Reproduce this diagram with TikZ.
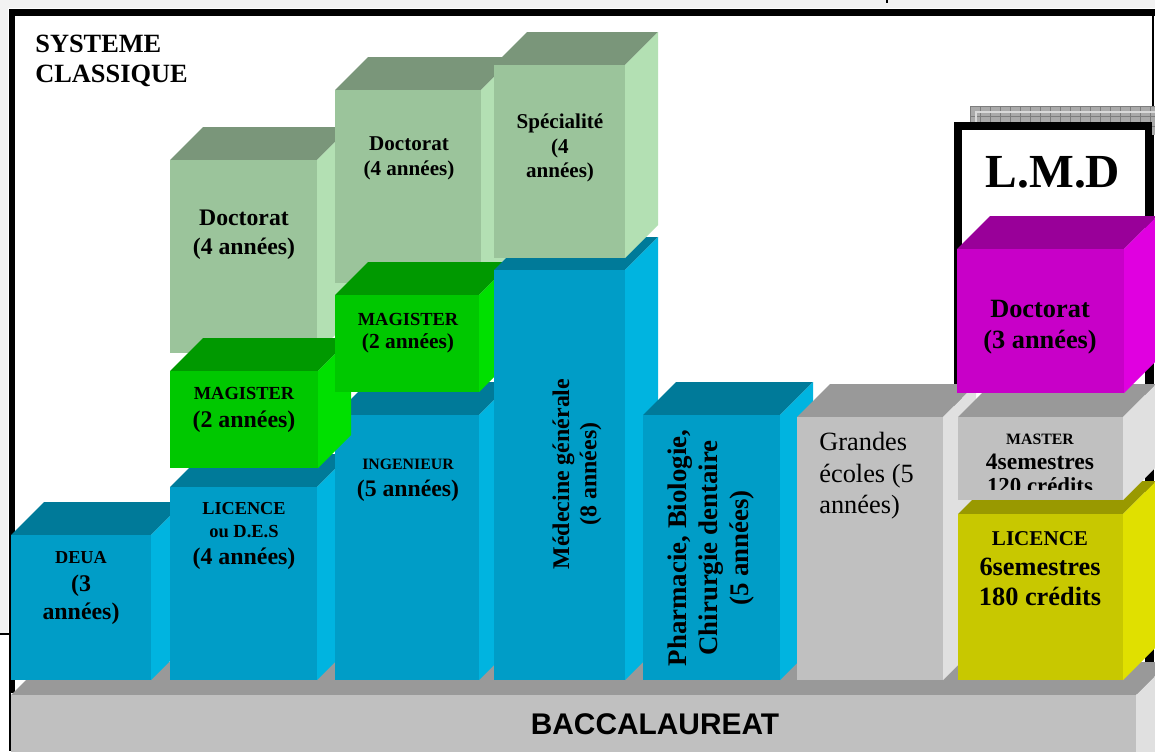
\documentclass[tikz,border=0pt]{standalone}
\usepackage{fontspec}
\setmainfont{Liberation Serif}
\newfontfamily\basefont{Liberation Sans}
\usetikzlibrary{calc}

\definecolor{bluefront}{RGB}{0,157,199}
\definecolor{bluetop}{RGB}{0,122,153}
\definecolor{blueside}{RGB}{0,180,224}
\definecolor{sagefront}{RGB}{155,196,155}
\definecolor{sagetop}{RGB}{122,150,122}
\definecolor{sageside}{RGB}{179,224,179}
\definecolor{greenfront}{RGB}{0,200,0}
\definecolor{greentop}{RGB}{0,153,0}
\definecolor{greenside}{RGB}{0,224,0}
\definecolor{greyfront}{RGB}{192,192,192}
\definecolor{greytop}{RGB}{153,153,153}
\definecolor{greyside}{RGB}{224,224,224}
\definecolor{magfront}{RGB}{200,0,200}
\definecolor{magtop}{RGB}{153,0,153}
\definecolor{magside}{RGB}{224,0,224}
\definecolor{yelfront}{RGB}{200,200,0}
\definecolor{yeltop}{RGB}{153,153,0}
\definecolor{yelside}{RGB}{224,224,0}
\definecolor{paper}{RGB}{242,242,242}
\definecolor{shadefill}{RGB}{170,170,170}
\definecolor{shadeline}{RGB}{125,125,125}

\tikzset{
	lbl/.style={align=center, inner sep=0pt},
	hatch/.style={shadeline, line width=0.5pt}
}
\newcommand{\fz}[2]{\fontsize{#1}{#2}\selectfont}
% #1 name, #2 colour, #3 x1, #4 y1, #5 x2, #6 y2 (front face)
\newcommand{\slab}[6]{%
	\fill[#2top] (#3,#4) -- ++(\dep,-\dep) -- ({#5+\dep},{#4-\dep}) -- (#5,#4) -- cycle;
	\fill[#2side] (#5,#4) -- ++(\dep,-\dep) -- ({#5+\dep},{#6-\dep}) -- (#5,#6) -- cycle;
	\fill[#2front] (#3,#4) rectangle (#5,#6);
	\coordinate (#1) at ({(#3+#5)/2},{(#4+#6)/2});
}

\begin{document}
\begin{tikzpicture}[x=0.02cm, y=-0.02cm]
    \def\dep{33} % depth of the blocks
    \useasboundingbox (0,0) rectangle (1155,751);
    \clip (0,0) rectangle (1155,751);

    % Page and frame
    \fill[white] (0,0) rectangle (1155,751);
    \fill[paper] (0,0) rectangle (1155,8);
    \fill[paper] (0,8) rectangle (8,634);
    \fill (0,633) rectangle (9,635);
    \fill (9,9) rectangle (1155,16);
    \fill (9,9) rectangle (15,693);
    \fill (9,693) rectangle (11,751);
    \fill (1152,16) rectangle (1154,751);
    \fill (886,0) rectangle (888,3);

    % L.M.D panel with its shadow
    \fill[shadefill] (970,106) rectangle (1155,135);
    \foreach \gx in {970,980,...,1150} {
      \draw[hatch] (\gx,106) -- (\gx,135);
    }
    \foreach \gy in {106,116,126} {
      \draw[hatch] (970,\gy) -- (1155,\gy);
    }
    \draw[gray!30, line width=0.6pt] (976,135) -- (976,112) -- (1155,112);
    \draw[line width=4.5pt, fill=white] (958,126) rectangle (1148.5,690);
    \node[font=\fz{27}{30}\bfseries, inner sep=0pt] (lmd) at (1053,172) {L.M.D};

    % Base
    \slab{bac}{grey}{11}{695}{1136}{780}
    \node[font=\basefont\bfseries\fz{17}{20}, inner sep=0pt] (tbac) at (655,724) {BACCALAUREAT};

    % Classical system blocks
    \slab{deua}{blue}{11}{535}{151}{680}
    \slab{lic}{blue}{170}{487}{317}{680}
    \slab{ing}{blue}{335}{415}{479}{680}
    \slab{docl}{sage}{170}{160}{317}{353}
    \slab{docm}{sage}{335}{90}{481}{283}
    \slab{magl}{green}{170}{371}{318}{468}
    \slab{magm}{green}{335}{295}{479}{392}
    \slab{med}{blue}{494}{270}{625}{680}
    \slab{spec}{sage}{494}{65}{625}{258}
    \slab{pharm}{blue}{643}{415}{780}{680}
    \slab{ge}{grey}{797}{417}{943}{680}

    % L.M.D blocks
    \slab{licl}{yel}{958}{514}{1123}{680}
    \slab{mast}{grey}{958}{417}{1123}{500}
    \slab{docd}{mag}{957}{249}{1124}{393}

    % Labels
    \node[lbl, align=left, anchor=west, font=\fz{15}{17}\bfseries] (title) at (35,61) {SYSTEME\\CLASSIQUE};
    \node[lbl, font=\fz{13.6}{15.8}\bfseries] (tdeua) at (81,588) {{\fz{10.4}{12}DEUA}\\(3\\années)};
    \node[lbl, font=\fz{13.6}{13.5}\bfseries] (tlic) at (244,536) {{\fz{10.4}{12}LICENCE}\\{\fz{10.5}{12}ou D.E.S}\\[2pt](4 années)};
    \node[lbl, font=\fz{13.5}{15.3}\bfseries] (ting) at (408,480) {{\fz{9}{10}INGENIEUR}\\(5 années)};
    \node[lbl, font=\fz{13.6}{15.6}\bfseries] (tmagl) at (244,410) {{\fz{10.5}{12}MAGISTER}\\(2 années)};
    \node[lbl, font=\fz{12.2}{13}\bfseries] (tmagm) at (408,333) {{\fz{10.5}{12}MAGISTER}\\(2 années)};
    \node[lbl, font=\fz{13.5}{16.5}\bfseries] (tdocl) at (244,235) {Doctorat\\(4 années)};
    \node[lbl, font=\fz{12}{14.2}\bfseries] (tdocm) at (409,158) {Doctorat\\(4 années)};
    \node[lbl, font=\fz{12}{14}\bfseries] (tspec) at (560,148) {Spécialité\\(4\\années)};
    \node[lbl, rotate=90, font=\fz{13.6}{15.4}\bfseries] (tmed) at (577,474) {Médecine générale\\(8 années)};
    \node[lbl, rotate=90, font=\fz{15.3}{17.6}\bfseries] (tpharm) at (711,548) {Pharmacie, Biologie,\\Chirurgie dentaire\\(5 années)};
    \node[lbl, align=left, anchor=west, font=\fz{15}{17.9}] (tge) at (819,476) {Grandes\\écoles (5\\années)};
    \begin{scope}
      \clip (958,417) rectangle (1123,489);
      \node[lbl, font=\fz{13.4}{14}\bfseries] (tmast) at (1040,464) {{\fz{9}{10}MASTER}\\4semestres\\{\fz{13}{14}120 crédits}};
    \end{scope}
    \node[lbl, font=\fz{15}{17}\bfseries] (tlicl) at (1040,569) {{\fz{12}{13}LICENCE}\\6semestres\\180 crédits};
    \node[lbl, font=\fz{15}{17.3}\bfseries] (tdocd) at (1040,327) {Doctorat\\(3 années)};
\end{tikzpicture}
\end{document}
